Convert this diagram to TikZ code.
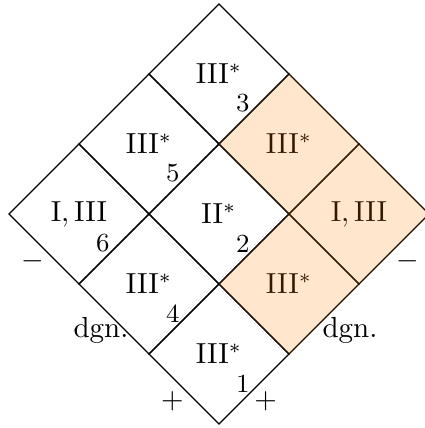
\documentclass[tikz,border=0pt]{standalone}
\usetikzlibrary{shapes.geometric}
\definecolor{hiorange}{HTML}{FF8000}
\tikzset{
  cell/.style={diamond,aspect=1,draw,thin,minimum width=1.697cm,minimum height=1.697cm,inner sep=0pt,outer sep=0pt},
  num/.style={font=\small,inner sep=1pt},
  hilite/.style={fill=hiorange,fill opacity=0.2},
  side/.style={inner sep=1pt}
}
\begin{document}
\begin{tikzpicture}
  \useasboundingbox (-2.654,-2.594) rectangle (2.497,2.594);
  % the nine cells
  \node[cell] (c3) at (0,1.697) {III$^*$};
  \node[cell] (c5) at (-0.8485,0.8485) {III$^*$};
  \node[cell] (r1) at (0.8485,0.8485) {III$^*$};
  \node[cell] (c6) at (-1.697,0) {$\mathrm{I,III}$};
  \node[cell] (c2) at (0,0) {II$^*$};
  \node[cell] (r2) at (1.697,0) {$\mathrm{I,III}$};
  \node[cell] (c4) at (-0.8485,-0.8485) {III$^*$};
  \node[cell] (r3) at (0.8485,-0.8485) {III$^*$};
  \node[cell] (c1) at (0,-1.697) {III$^*$};
  % cell numbers
  \foreach \c/\n in {c3/3,c5/5,c6/6,c2/2,c4/4,c1/1}
    \node[num] (n\n) at ([shift={(0.29,-0.357)}]\c) {\n};
  % highlighted cells
  \foreach \c in {r1,r2,r3}
    \fill[hilite] (\c.north) -- (\c.east) -- (\c.south) -- (\c.west) -- cycle;
  % labels on the sides
  \node[side] (ml) at (-2.26,-0.57) {$-$};
  \node[side] (mr) at (2.285,-0.57) {$-$};
  \node[side] (dl) at (-1.43,-1.406) {dgn.};
  \node[side] (dr) at (1.588,-1.406) {dgn.};
  \node[side] (pl) at (-0.564,-2.275) {$+$};
  \node[side] (pr) at (0.567,-2.275) {$+$};
\end{tikzpicture}
\end{document}
